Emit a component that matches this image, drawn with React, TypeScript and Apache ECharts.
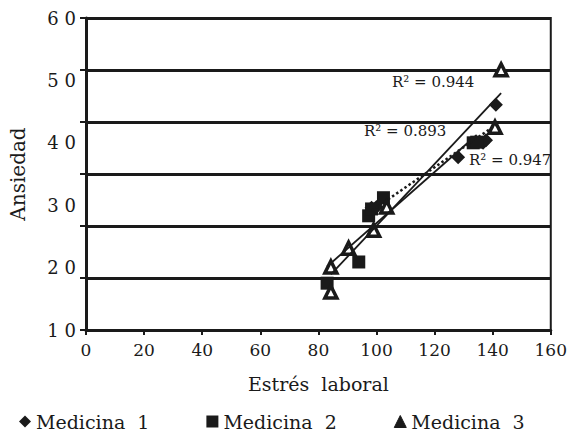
import React, { useEffect, useRef } from "react";
import * as echarts from "echarts";

const seriesNames = ["Medicina 1", "Medicina 2", "Medicina 3"];
const medicina1: [number, number][] = [
  [98.3, 29.6], [100, 29.7], [128.1, 37.7], [136.7, 40.0], [137.7, 40.4], [141.1, 46.1],
];
const medicina2: [number, number][] = [
  [83.0, 17.5], [93.9, 20.9], [97.3, 28.3], [98.3, 29.4], [102.4, 31.2], [133.3, 40.0], [134.5, 40.1],
];
const medicina3: [number, number][] = [
  [84.3, 16.1], [84.3, 20.1], [90.4, 23.1], [99.0, 26.0], [103.5, 29.7], [140.8, 42.5], [142.9, 51.7],
];
const r2Labels = ["R\u00B2 = 0.944", "R\u00B2 = 0.893", "R\u00B2 = 0.947"];
const yTicks = [10, 20, 30, 40, 50, 60];
const xTicks = [0, 20, 40, 60, 80, 100, 120, 140, 160];

function trend(points: [number, number][]): [number, number][] {
  const n = points.length;
  const mx = points.reduce((s, p) => s + p[0], 0) / n;
  const my = points.reduce((s, p) => s + p[1], 0) / n;
  let sxy = 0, sxx = 0;
  points.forEach(([x, y]) => { sxy += (x - mx) * (y - my); sxx += (x - mx) * (x - mx); });
  const b = sxy / sxx;
  const a = my - b * mx;
  const xs = points.map((p) => p[0]);
  const x0 = Math.min(...xs), x1 = Math.max(...xs);
  return [[x0, a + b * x0], [x1, a + b * x1]];
}

const FONT = "DejaVu Serif";
const INK = "#1a1a1a";

export default function App() {
  const ref = useRef<HTMLDivElement>(null);
  useEffect(() => {
    if (!ref.current) return;
    const chart = echarts.init(ref.current, undefined, { renderer: "svg" });
    chart.setOption({
      animation: false,
      backgroundColor: "#fff",
      grid: { left: 86, right: 17, top: 18, bottom: 102, show: true, borderColor: INK, borderWidth: 2, backgroundColor: "transparent" },
      legend: {
        data: [
          { name: seriesNames[0] },
          { name: seriesNames[1] },
          { name: seriesNames[2], itemStyle: { color: INK, borderColor: INK, borderWidth: 1 } },
        ],
        left: 14, top: 407,
        itemWidth: 12, itemHeight: 12, itemGap: 57,
        textStyle: { fontFamily: FONT, fontSize: 19, color: INK },
        formatter: (n: string) => n.replace(" ", "  "),
      },
      xAxis: {
        type: "value", min: xTicks[0], max: xTicks[xTicks.length - 1], interval: 20,
        name: "Estrés  laboral", nameLocation: "middle", nameGap: 44,
        nameTextStyle: { fontFamily: FONT, fontSize: 19, color: INK },
        axisLine: { show: true, lineStyle: { color: INK, width: 3 } },
        axisTick: { show: true, length: 5, lineStyle: { color: INK, width: 2 } },
        axisLabel: { fontFamily: FONT, fontSize: 17, color: INK, margin: 11 },
        splitLine: { show: false },
      },
      yAxis: [
        {
          type: "value", min: yTicks[0], max: yTicks[yTicks.length - 1], interval: 10,
          position: "left",
          name: "Ansiedad", nameLocation: "middle", nameGap: 58,
          nameTextStyle: { fontFamily: FONT, fontSize: 20, color: INK },
          axisLine: { show: true, lineStyle: { color: INK, width: 3 } },
          axisTick: { show: false },
          axisLabel: { fontFamily: FONT, fontSize: 18, color: INK, margin: 10, formatter: (v: number) => String(v).split("").join(" ") },
          splitLine: { show: false },
        },
        {
          type: "value", min: 0, max: 6, interval: 1, position: "left",
          axisLine: { show: false },
          axisTick: { show: true, length: 6, lineStyle: { color: INK, width: 2 } },
          axisLabel: { show: false },
          splitLine: { show: true, lineStyle: { color: INK, width: 3 } },
        },
      ],
      series: [
        { name: seriesNames[0], type: "scatter", symbol: "diamond", symbolSize: 14, data: medicina1, itemStyle: { color: INK, opacity: 1 }, z: 3 },
        { name: seriesNames[1], type: "scatter", symbol: "rect", symbolSize: 13, data: medicina2, itemStyle: { color: INK, opacity: 1 }, z: 3 },
        { name: seriesNames[2], type: "scatter", symbol: "triangle", symbolSize: 12, data: medicina3, itemStyle: { color: "#fff", borderColor: INK, borderWidth: 3.5, opacity: 1 }, z: 4 },
        { type: "line", data: trend(medicina1), symbol: "none", lineStyle: { color: INK, width: 2.5, type: "dotted" }, z: 5 },
        { type: "line", data: trend(medicina2), symbol: "none", lineStyle: { color: INK, width: 1.8 }, z: 5 },
        { type: "line", data: trend(medicina3), symbol: "none", lineStyle: { color: INK, width: 1.8 }, z: 5 },
      ],
      graphic: [
        { type: "text", left: 392, top: 74, style: { text: r2Labels[0], fontFamily: FONT, fontSize: 15, fill: INK } },
        { type: "text", left: 364, top: 123, style: { text: r2Labels[1], fontFamily: FONT, fontSize: 15, fill: INK } },
        { type: "text", left: 469, top: 152, style: { text: r2Labels[2], fontFamily: FONT, fontSize: 15, fill: INK } },
      ],
    });
    return () => chart.dispose();
  }, []);
  return <div ref={ref} style={{ width: 570, height: 432, position: "absolute", left: 0, top: 0 }} />;
}
